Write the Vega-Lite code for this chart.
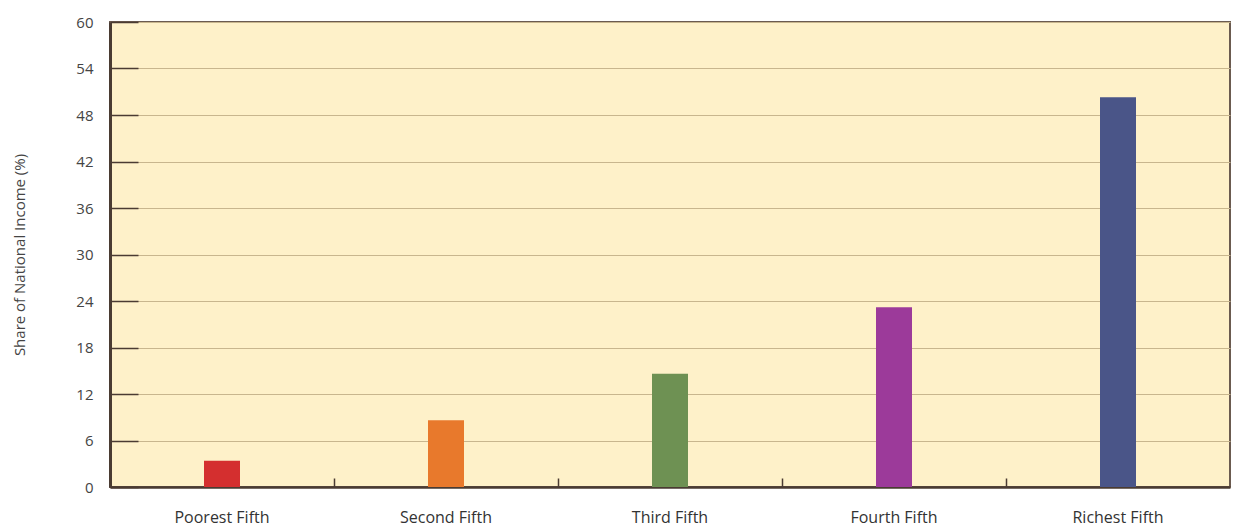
{
  "$schema": "https://vega.github.io/schema/vega-lite/v6.json",
  "autosize": "none",
  "width": 1120,
  "height": 465,
  "padding": {"left": 110, "top": 22, "right": 4, "bottom": 42},
  "background": "#ffffff",
  "config": {
    "font": "Open Sans",
    "view": {"fill": "#fef1c9", "stroke": "#6b5b50", "strokeWidth": 2}
  },
  "data": {
    "values": [
      {"group": "Poorest Fifth", "share": 3.4},
      {"group": "Second Fifth", "share": 8.6},
      {"group": "Third Fifth", "share": 14.6},
      {"group": "Fourth Fifth", "share": 23.2},
      {"group": "Richest Fifth", "share": 50.3}
    ]
  },
  "mark": {"type": "bar", "width": 36},
  "encoding": {
    "x": {
      "field": "group",
      "type": "nominal",
      "sort": null,
      "scale": {"paddingInner": 0, "paddingOuter": 0},
      "axis": {
        "title": null,
        "labelAngle": 0,
        "labelFontSize": 16,
        "labelColor": "#333333",
        "labelPadding": 31,
        "domainColor": "#4a3b32",
        "domainWidth": 2.5,
        "bandPosition": 0,
        "ticks": true,
        "tickSize": -9,
        "tickColor": "#4a3b32",
        "tickWidth": 1.5,
        "grid": false
      }
    },
    "y": {
      "field": "share",
      "type": "quantitative",
      "scale": {"domain": [0, 60], "nice": false},
      "axis": {
        "title": "Share of National Income (%)",
        "titleFontSize": 15,
        "titleFontWeight": "normal",
        "titleColor": "#444444",
        "titlePadding": 48,
        "values": [0, 6, 12, 18, 24, 30, 36, 42, 48, 54, 60],
        "labelFontSize": 15,
        "labelColor": "#444444",
        "labelPadding": 45,
        "tickSize": -28,
        "tickColor": "#4a3b32",
        "tickWidth": 1.5,
        "domainColor": "#4a3b32",
        "domainWidth": 3,
        "grid": true,
        "gridColor": "#c8b68e",
        "gridWidth": 1.2,
        "gridOpacity": 1
      }
    },
    "color": {
      "field": "group",
      "type": "nominal",
      "sort": null,
      "scale": {
        "domain": ["Poorest Fifth", "Second Fifth", "Third Fifth", "Fourth Fifth", "Richest Fifth"],
        "range": ["#d42f2f", "#e8792c", "#6e9153", "#9c3a9a", "#4a5588"]
      },
      "legend": null
    }
  }
}
